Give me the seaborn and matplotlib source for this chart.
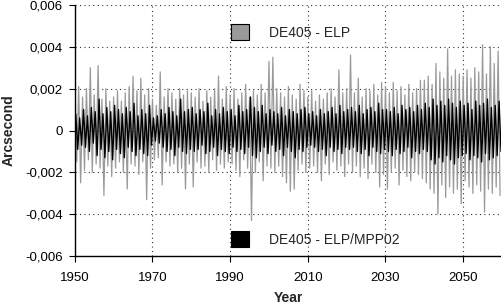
import numpy as np
import pandas as pd
import matplotlib
matplotlib.use("Agg")
import matplotlib.pyplot as plt
from matplotlib.patches import Patch
from matplotlib.ticker import FuncFormatter
import seaborn as sns

# Residuals, in units of 0.001 arcsec, one value every half year
# (peaks and troughs alternate), one row per decade 1950s..2050s
ELP = [
    1.8, -1.5, 2.1, -2.5, 1.6, -1.9, 2.0, -1.4, 3.0, -2.0, 1.7, -1.6, 3.1, -1.8, 1.5, -3.1, 2.0, -1.7, 1.4, -2.2,
    1.6, -1.8, 1.9, -1.5, 1.4, -2.0, 1.8, -2.8, 2.1, -1.6, 2.6, -1.7, 1.9, -2.1, 2.5, -1.5, 1.7, -3.3, 2.0, -1.8,
    1.5, -1.4, 1.2, -1.3, 2.8, -2.6, 1.6, -1.5, 2.0, -1.7, 1.8, -1.6, 1.5, -2.0, 2.0, -1.8, 1.7, -2.8, 1.9, -1.6,
    1.8, -2.7, 1.6, -1.5, 2.0, -1.8, 1.4, -1.7, 1.9, -2.0, 1.6, -1.4, 2.0, -1.9, 2.6, -1.6, 1.5, -1.8, 2.1, -1.5,
    1.7, -1.6, 2.0, -1.9, 1.5, -2.2, 1.8, -1.4, 2.2, -1.8, 1.6, -4.3, 1.9, -2.0, 1.7, -1.5, 2.2, -2.4, 1.8, -1.7,
    3.3, -1.8, 3.5, -2.0, 2.0, -1.7, 1.8, -2.2, 1.6, -2.5, 2.1, -2.9, 1.7, -2.8, 1.5, -1.9, 2.2, -1.6, 1.9, -2.0,
    1.6, -1.8, 1.9, -1.7, 1.4, -2.0, 1.7, -2.4, 1.5, -1.6, 1.8, -2.1, 2.0, -1.5, 1.6, -1.9, 2.9, -1.7, 1.8, -2.2,
    2.0, -1.6, 3.6, -2.0, 1.8, -1.7, 2.5, -2.2, 1.6, -1.8, 2.0, -2.3, 1.9, -1.6, 2.2, -2.0, 1.7, -2.7, 2.3, -2.1,
    2.1, -2.8, 1.8, -2.0, 2.3, -1.8, 1.9, -2.6, 2.1, -1.9, 1.7, -2.2, 2.2, -2.4, 1.8, -2.0, 2.0, -2.1, 2.4, -2.3,
    2.4, -2.5, 2.6, -2.8, 2.2, -3.0, 3.2, -4.0, 2.8, -2.6, 2.5, -3.2, 3.9, -2.7, 2.6, -3.0, 2.9, -2.8, 2.7, -3.5,
    2.6, -2.4, 2.9, -2.7, 2.5, -3.0, 3.0, -2.6, 2.8, -2.9, 4.1, -3.9, 2.7, -2.8, 4.0, -3.0, 3.2, -2.7, 3.8, -3.1,
]
MPP02 = [
    0.8, -0.9, 0.6, -0.7, 1.0, -0.8, 0.7, -1.0, 1.1, -0.6, 0.9, -1.2, 1.5, -0.9, 0.8, -1.3, 1.1, -1.0, 0.9, -1.4,
    1.2, -0.9, 1.0, -1.1, 0.8, -1.3, 1.1, -0.8, 0.9, -1.0, 1.3, -1.2, 0.7, -0.9, 1.0, -1.1, 0.8, -1.2, 1.2, -0.7,
    0.6, -0.5, 0.7, -0.6, 1.0, -0.8, 0.8, -1.0, 1.1, -0.9, 0.9, -1.2, 0.7, -0.8, 1.5, -1.0, 0.9, -1.1, 1.0, -0.9,
    1.1, -1.0, 0.8, -0.9, 1.0, -0.7, 0.9, -1.1, 1.3, -1.0, 0.7, -0.8, 1.0, -1.2, 0.8, -0.9, 1.1, -1.0, 0.9, -1.1,
    1.0, -0.8, 0.7, -1.0, 1.2, -0.9, 0.9, -1.1, 1.0, -0.8, 1.6, -1.2, 1.1, -1.3, 0.9, -1.0, 1.2, -0.8, 0.8, -1.1,
    1.0, -0.7, 0.9, -1.0, 0.8, -0.9, 1.1, -1.2, 0.7, -0.8, 1.0, -1.0, 0.9, -1.3, 0.8, -0.9, 1.0, -1.0, 1.1, -0.8,
    0.8, -0.7, 0.9, -0.8, 0.7, -1.0, 1.0, -0.9, 0.8, -1.2, 0.9, -0.8, 1.1, -1.0, 0.8, -0.9, 1.2, -1.1, 0.9, -0.8,
    1.0, -0.9, 1.1, -0.8, 0.9, -1.0, 1.2, -1.1, 0.8, -0.9, 1.0, -1.2, 1.1, -0.8, 0.9, -1.0, 1.3, -1.1, 1.0, -0.9,
    1.0, -1.0, 0.9, -1.2, 1.1, -0.9, 0.8, -1.1, 1.2, -1.0, 1.0, -0.8, 1.1, -1.3, 0.9, -1.0, 1.2, -1.1, 1.0, -0.9,
    1.3, -1.0, 1.1, -1.4, 1.5, -1.6, 1.2, -1.3, 1.4, -1.5, 1.2, -1.2, 1.5, -1.4, 1.3, -1.6, 1.1, -1.3, 1.4, -1.2,
    1.2, -1.1, 1.3, -1.4, 1.0, -1.2, 1.4, -1.3, 1.2, -1.5, 1.3, -1.1, 1.5, -1.4, 1.1, -1.3, 1.2, -1.2, 1.4, -1.0,
]
LABELS = ["DE405 - ELP", "DE405 - ELP/MPP02"]
YEAR_START = 1950.0
STEP = 0.5
X_TICKS = [1950, 1970, 1990, 2010, 2030, 2050]
Y_TICKS = [-0.006, -0.004, -0.002, 0, 0.002, 0.004, 0.006]

GRAY = "#9a9a9a"


def arcsec_fmt(v, pos):
    if abs(v) < 1e-12:
        return "0"
    return f"{v:.3f}".replace(".", ",")


def main():
    sns.set_style("white")
    plt.rcParams["font.family"] = ["Liberation Sans", "DejaVu Sans"]

    years_a = YEAR_START + STEP * np.arange(len(ELP))
    years_b = YEAR_START + STEP / 2 + STEP * np.arange(len(MPP02))
    df_a = pd.DataFrame({"Year": years_a, "Arcsecond": np.array(ELP) * 1e-3})
    df_b = pd.DataFrame({"Year": years_b, "Arcsecond": np.array(MPP02) * 1e-3})

    fig = plt.figure(figsize=(5.02, 3.06), dpi=100)
    ax = fig.add_axes([0.149, 0.163, 0.851, 0.821])

    sns.lineplot(data=df_a, x="Year", y="Arcsecond", color=GRAY, linewidth=0.9,
                 estimator=None, sort=False, ax=ax)
    sns.lineplot(data=df_b, x="Year", y="Arcsecond", color="black", linewidth=1.0,
                 estimator=None, sort=False, ax=ax)

    ax.set_xlim(1950, 2060)
    ax.set_ylim(-0.006, 0.006)
    ax.set_xticks(X_TICKS)
    ax.set_yticks(Y_TICKS)
    ax.yaxis.set_major_formatter(FuncFormatter(arcsec_fmt))
    ax.grid(True, linestyle=(0, (1, 3)), color="#333333", linewidth=0.8)
    ax.set_axisbelow(True)

    for side in ["top", "right"]:
        ax.spines[side].set_visible(False)
    for side in ["left", "bottom"]:
        ax.spines[side].set_color("black")
        ax.spines[side].set_linewidth(1.0)
    ax.tick_params(axis="both", direction="out", length=4.5, width=0.8,
                   labelsize=9.5, colors="black", left=True, bottom=True)
    ax.tick_params(axis="x", pad=7)
    ax.tick_params(axis="y", pad=4)

    ax.set_xlabel("Year", fontsize=10, fontweight="bold", labelpad=5)
    ax.set_ylabel("Arcsecond", fontsize=10, fontweight="bold", labelpad=7)

    # two separate legend entries, one at the top and one at the bottom
    leg_kw = dict(frameon=False, fontsize=10, handlelength=1.3, handleheight=1.3,
                  handletextpad=1.4, borderpad=0, borderaxespad=0, loc="center left")
    leg1 = ax.legend([Patch(facecolor=GRAY, edgecolor="black", linewidth=0.8)], [LABELS[0]],
                     bbox_to_anchor=(0.366, 0.892), **leg_kw)
    ax.add_artist(leg1)
    ax.legend([Patch(facecolor="black", edgecolor="black", linewidth=0.8)], [LABELS[1]],
              bbox_to_anchor=(0.366, 0.068), **leg_kw)

    fig.savefig("out.png", dpi=100)
    plt.close(fig)


if __name__ == "__main__":
    main()
